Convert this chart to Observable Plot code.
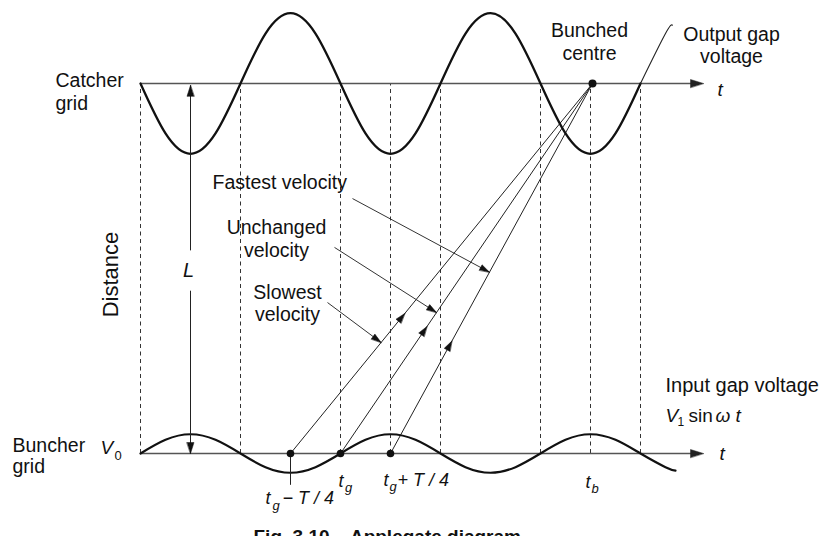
<!DOCTYPE html>
<html><head><meta charset="utf-8">
<script src="https://cdn.jsdelivr.net/npm/d3@7"></script>
<script src="https://cdn.jsdelivr.net/npm/@observablehq/plot@0.6"></script>
<style>html,body{margin:0;padding:0;background:#fff;overflow:hidden}</style>
</head><body><div id="chart"></div>
<script>
// Time in periods T, distance in units of the drift length L (buncher = 0, catcher = 1)
const catcherT = [0,0.125,0.25,0.375,0.5,0.625,0.75,0.875,1,1.125,1.25,1.375,1.5,1.625,1.75,1.875,2,2.125,2.25,2.375,2.5,2.625,2.66];
const catcherV = [0,-0.71,-1,-0.71,0,0.71,1,0.71,0,-0.71,-1,-0.71,0,0.71,1,0.71,0,-0.71,-1,-0.71,0,0.71,0.83];
const buncherT = [0,0.125,0.25,0.375,0.5,0.625,0.75,0.875,1,1.125,1.25,1.375,1.5,1.625,1.75,1.875,2,2.125,2.25,2.375,2.5,2.625,2.675];
const buncherV = [0,0.71,1,0.71,0,-0.71,-1,-0.71,0,0.71,1,0.71,0,-0.71,-1,-0.71,0,0.71,1,0.71,0,-0.71,-0.89];
const dashedT = [0,0.5,1,1.25,1.5,2,2.25,2.5];
const entryT = [0.75, 1.0, 1.25];          // t_g - T/4, t_g, t_g + T/4
const entryName = ["Slowest", "Unchanged", "Fastest"];
const bunchT = 2.26;                        // t_b, bunched centre
const midArrowFrac = [0.368, 0.332, 0.292];
const axisEndT = 2.815;
const thinFromT = 2.5;
const CATCH_AMP = 0.19, BUNCH_AMP = 0.052;

// annotation pointers: start of leader (t,d), target electron line and fraction along it
const pointers = [
  {from: [1.06, 0.689], line: 2, frac: 0.49},
  {from: [0.97, 0.557], line: 1, frac: 0.381},
  {from: [0.935, 0.408], line: 0, frac: 0.30}
];

const W = 826, H = 536;
const xDomain = [-0.7, 3.43];
const yDomain = [-0.2243, 1.2243];
const kx = W / (xDomain[1] - xDomain[0]);
const ky = H / (yDomain[1] - yDomain[0]);
const angle = (dt, dd) => Math.atan2(dt * kx, dd * ky) * 180 / Math.PI;

const catcher = catcherT.map((t, i) => ({t, d: 1 + CATCH_AMP * catcherV[i]}));
const buncher = buncherT.map((t, i) => ({t, d: BUNCH_AMP * buncherV[i]}));
const electrons = entryT.map((t0, i) => ({t0, name: entryName[i], f: midArrowFrac[i]}));
const onLine = (k, f) => ({t: entryT[k] + f * (bunchT - entryT[k]), d: f});
const midArrows = electrons.map((e, i) => ({...onLine(i, e.f), rot: angle(bunchT - e.t0, 1)}));
const ptrs = pointers.map(p => {
  const tip = onLine(p.line, p.frac);
  return {t1: p.from[0], d1: p.from[1], t2: tip.t, d2: tip.d, rot: angle(tip.t - p.from[0], tip.d - p.from[1])};
});

const head = {draw(ctx, l, r) { ctx.moveTo(0, -l); ctx.lineTo(-r, 0); ctx.lineTo(r, 0); ctx.closePath(); }};
const FONT = "'Liberation Sans', Arial, Helvetica, sans-serif";

function label(text, t, d, o = {}) {
  return Plot.text([{t, d, s: text}], {x: "t", y: "d", text: "s", fontSize: 19.5, lineAnchor: "bottom",
    textAnchor: "start", fill: "#111", ...o});
}
const it = {fontStyle: "italic"};

const chart = Plot.plot({
  width: W, height: H, margin: 0,
  x: {domain: xDomain, axis: null},
  y: {domain: yDomain, axis: null},
  style: {fontFamily: FONT, background: "#fff"},
  marks: [
    // dashed time references
    Plot.ruleX(dashedT, {x: d => d, y1: 0, y2: 1, stroke: "#333", strokeWidth: 1, strokeDasharray: "4,3.5"}),
    // grid axes
    Plot.link([0, 1], {x1: 0, x2: axisEndT - 0.03, y1: d => d, y2: d => d, stroke: "#555", strokeWidth: 1.6}),
    Plot.vector([0, 1], {x: axisEndT, y: d => d, rotate: 90, length: 13, r: 4, anchor: "end", shape: head, fill: "#222", stroke: "#222", strokeWidth: 0.5}),
    // electron trajectories
    Plot.link(electrons, {x1: "t0", y1: 0, x2: bunchT, y2: 1, stroke: "#222", strokeWidth: 1}),
    Plot.vector(midArrows, {x: "t", y: "d", rotate: "rot", length: 10, r: 3.2, anchor: "middle", shape: head, fill: "#111", stroke: "#111", strokeWidth: 0.5}),
    // voltage waves
    Plot.line(catcher.filter(p => p.t <= thinFromT), {x: "t", y: "d", curve: "natural", stroke: "#111", strokeWidth: 2.3}),
    Plot.line(catcher.filter(p => p.t >= thinFromT), {x: "t", y: "d", curve: "natural", stroke: "#222", strokeWidth: 1.1}),
    Plot.line(buncher, {x: "t", y: "d", curve: "natural", stroke: "#111", strokeWidth: 2.2}),
    // L dimension
    Plot.link([{a: 0.549, b: 0.995}, {a: 0.44, b: 0.0}], {x1: 0.25, x2: 0.25, y1: "a", y2: "b", stroke: "#222", strokeWidth: 1}),
    Plot.vector([{d: 0.995, r: 0}, {d: 0, r: 180}], {x: 0.25, y: "d", rotate: "r", length: 11, r: 3.5, anchor: "end", shape: head, fill: "#111", stroke: "#111", strokeWidth: 0.5}),
    // tick under t_g - T/4
    Plot.ruleX([entryT[0]], {x: d => d, y1: 0, y2: -0.086, stroke: "#222", strokeWidth: 1}),
    // pointer leaders
    Plot.link(ptrs, {x1: "t1", y1: "d1", x2: "t2", y2: "d2", stroke: "#333", strokeWidth: 1}),
    Plot.vector(ptrs, {x: "t2", y: "d2", rotate: "rot", length: 10, r: 3, anchor: "end", shape: head, fill: "#111", stroke: "#111", strokeWidth: 0.5}),
    // dots
    Plot.dot(entryT, {x: d => d, y: 0, r: 3.8, fill: "#111"}),
    Plot.dot([bunchT], {x: d => d, y: 1, r: 4, fill: "#111"}),
    // labels
    label("Catcher\ngrid", -0.425, 0.9297, {lineHeight: 1.13}),
    label("Buncher\ngrid", -0.64, -0.0514, {lineHeight: 1.03}),
    label("Distance", -0.115, 0.4838, {rotate: -90, textAnchor: "middle", fontSize: 22}),
    label("L", 0.24, 0.4757, {...it, textAnchor: "middle", fontSize: 20}),
    label("V", -0.2, 0, {...it, fontSize: 19}),
    label("0", -0.13, -0.0189, {fontSize: 13}),
    label("Fastest velocity", 0.36, 0.7162),
    label("Unchanged\nvelocity", 0.68, 0.5324, {textAnchor: "middle", lineHeight: 1.13}),
    label("Slowest\nvelocity", 0.735, 0.3568, {textAnchor: "middle", lineHeight: 1.13}),
    label("Bunched\ncentre", 2.245, 1.0622, {textAnchor: "middle", lineHeight: 1.18}),
    label("Output gap\nvoltage", 2.955, 1.0541, {textAnchor: "middle", lineHeight: 1.13}),
    label("t", 2.885, 0.9649, {...it, fontSize: 19}),
    label("t", 2.895, -0.0189, {...it, fontSize: 19}),
    label("Input gap voltage", 2.625, 0.1649, {fontSize: 20}),
    label("V", 2.625, 0.0838, {...it, fontSize: 19}),
    label("1", 2.685, 0.073, {fontSize: 12}),
    label("sin", 2.74, 0.0838, {fontSize: 19}),
    label("ω t", 2.875, 0.0838, {...it, fontSize: 19}),
    label("t", 0.625, -0.1378, {...it, fontSize: 18}),
    label("g", 0.66, -0.1514, {...it, fontSize: 13}),
    label("− T / 4", 0.71, -0.1378, {...it, fontSize: 18}),
    label("t", 0.99, -0.0892, {...it, fontSize: 18}),
    label("g", 1.0225, -0.1027, {...it, fontSize: 13}),
    label("t", 1.215, -0.0865, {...it, fontSize: 18}),
    label("g", 1.245, -0.1, {...it, fontSize: 13}),
    label("+ T / 4", 1.285, -0.0865, {...it, fontSize: 18}),
    label("t", 2.225, -0.0919, {...it, fontSize: 18}),
    label("b", 2.255, -0.1054, {...it, fontSize: 13}),
    label("Fig. 3.10    Applegate diagram", 0.565, -0.2432, {fontSize: 19, fontWeight: "bold"})
  ]
});
document.getElementById("chart").appendChild(chart);
</script>
</body></html>
